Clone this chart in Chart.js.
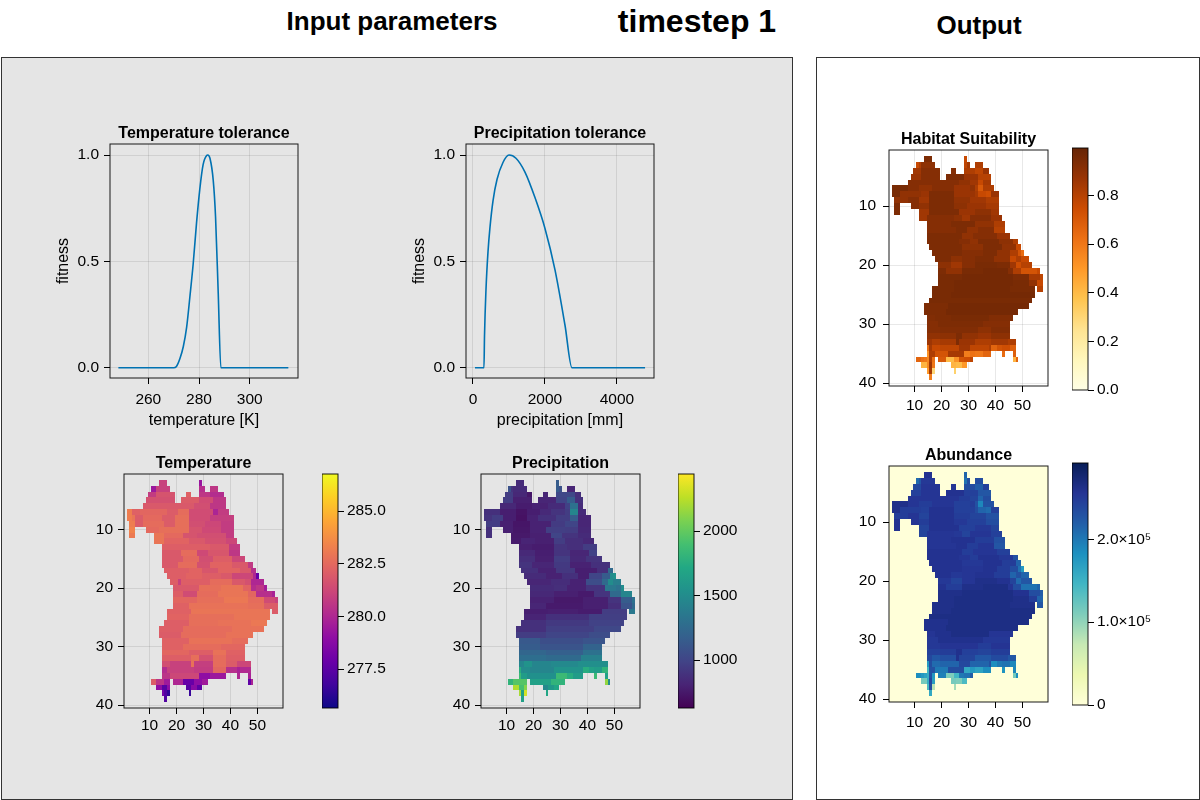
<!DOCTYPE html>
<html><head><meta charset="utf-8">
<script src="https://cdn.jsdelivr.net/npm/chart.js@4"></script>
<style>
html,body{margin:0;padding:0;background:#fff;width:1200px;height:800px;overflow:hidden;font-family:"Liberation Sans",sans-serif}
.box{position:absolute;box-sizing:border-box;border:1px solid #333}
.head{position:absolute;font-weight:bold;color:#000;white-space:nowrap;transform:translate(-50%,-50%)}
canvas{position:absolute;display:block}
</style></head><body>
<div class="box" style="left:1px;top:57px;width:792px;height:743px;background:#e5e5e5"></div>
<div class="box" style="left:816px;top:57px;width:384px;height:743px;background:#fff"></div>
<div class="head" style="left:392px;top:21px;font-size:26px">Input parameters</div>
<div class="head" style="left:697px;top:21px;font-size:32px">timestep 1</div>
<div class="head" style="left:979px;top:25px;font-size:26px">Output</div>
<script>
const tempAxisX=[248.2,260,270,271,272.5,273.8,275.1,276.4,277.7,279,280.3,281.6,283,283.4,284.3,285.6,286.5,287.56,288.6,300,315.2];
const tempFitness=[0,0,0,0.005,0.045,0.10,0.19,0.335,0.49,0.68,0.84,0.955,0.998,1,0.985,0.88,0.71,0.35,0,0,0];
const precipAxisX=[55,300,305,320,361,417,472,556,667,833,1000,1194,1444,1722,2000,2278,2556,2750,4780];
const precipFitness=[0,0,0,0.15,0.367,0.545,0.66,0.785,0.885,0.965,1,0.985,0.92,0.80,0.655,0.46,0.2,0,0];
const maskSpans=[[],[14,16,29,29],[11,17,29,30,33,35],[10,19,24,25,29,37],[9,19,22,38],[8,38],[2,39],[2,41],[3,41],[3,4,9,41],[3,4,12,41],[12,42],[15,43],[15,43],[15,45],[15,48],[16,49],[17,50],[18,52],[19,53],[19,56],[19,57],[19,57],[17,54,56,57],[17,54],[16,53],[14,52],[14,48],[15,46],[15,45],[15,45],[15,45],[15,47],[15,47],[15,38,43,43,47,47],[11,17,19,31,47,48],[13,17,24,29],[15,17,25,25],[16,16],[]];
const temperatureRuns=[[],
[14,281,29,279.3],
[11,279.4,13,281,29,280.3,33,280.6],
[10,280.8,13,281.7,24,282.2,29,280.6,33,280.2],
[9,281.6,22,282,29,281.4,34,280.6],
[8,281.9,27,281.5,33,280.6],
[2,283.2,4,282.2,7,282.4,17,282,21,282.6,25,281.4,34,279.9,36,280.8],
[2,283.2,4,282.9,5,282,8,282.5,15,282,20,282.7,25,281.4,33,280.9],
[3,283.2,5,282,8,282.6,16,282,20,282.7,25,281.5,31,281.2,37,280.8],
[3,283.4,9,282.5,14,282.7,25,281.7,30,281.3,37,280.8],
[3,283.1,12,282.9,16,282.5,23,281.7,28,281.5,39,280.8],
[12,282.9,16,282.3,25,281.9,31,281.6,39,281.2],
[15,282.1,33,281.9,40,280.8],
[15,281.9,22,282.6,28,281.3,32,281.8,40,280.6],
[15,281.9,23,282.5,29,281.5,34,282.1,41,281.2],
[15,281.9,21,282.6,28,281.6,33,282.3,41,281.9,47,280.7],
[16,282.1,25,282.3,30,281.8,36,282.3,44,281.9,48,280.3],
[17,282.1,24,282.3,30,282.1,37,281.9,41,281.2,49,280,50,277.8],
[18,282.1,21,281,22,282.1,33,282.6,41,281.9,46,281.6,48,280],
[19,281.9,29,282.7,37,282.9,45,282.3,48,280.2,50,280.6,53,279.6],
[19,282.1,23,281.4,28,282.6,36,282.9,47,282.4,50,280.3,56,279.8],
[19,282.4,28,282.7,38,283,47,282.6,53,281.4,57,281],
[19,282.2,25,282.8,47,282.7,53,282],
[17,282.2,26,282.9,56,282],
[17,282.3,25,282.7,42,282.9],
[16,282.1,25,282.7,36,282.8,48,283],
[14,282.1,23,282.6,41,282.8],
[14,282,22,282.6,39,282.8],
[15,282.2,25,282.8,41,282.6],
[15,282.2,23,282.6,37,282.4],
[15,282.4,25,282.1,34,282.8,39,282.2],
[15,282.1,26,282.7,29,281.6,34,282.6,39,282.1],
[15,281.5,18,281,26,282.8,27,280.9,34,282.6,39,282,43,281.2],
[15,280.2,17,281,27,280.8,34,282.4,39,280.3,43,279.8,44,280.1],
[15,280.5,18,281.2,29,279,33,279.4,43,280,47,279.8],
[11,282,13,280.5,16,279.5,19,280,23,277.8,27,279,30,279.5,47,277.6,48,279.8],
[13,279,15,277.4,17,279,24,277.4,26,278.8,28,277.5],
[15,278.2,16,277.2,17,276.4,25,276.6],
[16,277.2],[]];
const precipitationRuns=[[],
[14,850,29,1150],
[11,1080,12,900,13,850,29,1150,30,1080,33,820],
[10,950,13,830,18,740,24,820,29,1020,36,870],
[9,950,13,790,22,820,29,1000,33,1150,36,880],
[8,830,14,770,20,800,26,850,32,980,34,1300,37,850],
[2,880,8,780,14,720,18,780,23,840,27,900,32,950,34,1450,37,850],
[2,900,5,950,9,780,14,710,18,800,22,880,29,950,34,1150,37,820],
[3,950,8,790,13,730,19,800,27,940,32,1000,37,820],
[3,880,9,790,13,740,19,800,25,960,32,950,37,830],
[3,880,12,750,19,790,27,1000,31,900,37,850],
[12,760,16,810,21,790,28,950,32,870,39,830],
[15,790,20,770,28,900,33,870,39,950],
[15,840,21,780,28,900,34,820,41,980],
[15,870,21,790,28,950,34,830,40,900],
[15,900,20,820,28,930,34,800,42,880],
[16,880,22,800,29,920,36,780,44,870,48,1250],
[17,850,25,800,31,880,37,780,41,1000,46,1150,49,1500,50,1550],
[18,820,27,860,34,800,40,1050,46,1250,48,1500,50,1400],
[19,850,28,870,33,800,40,900,47,1350,51,1300,53,1500],
[19,830,28,790,37,760,43,900,49,1250,53,1450],
[19,800,28,750,39,790,48,900,53,1150,57,1300],
[19,820,25,760,39,790,48,870,53,1100,57,1250],
[17,780,26,790,37,770,46,950,56,1350],
[17,810,25,880,41,960],
[16,880,25,930,41,980],
[14,880,25,960,43,1020],
[14,950,25,1000,41,1050],
[15,1130,23,1060,39,1100],
[15,1150,23,1100,39,1200],
[15,1220,25,1180,39,1300],
[15,1280,25,1250,38,1420],
[15,1450,17,1550,20,1450,27,1480,37,1520],
[15,1750,16,1500,19,1450,28,1550,39,1750,41,1650,43,1620,46,1800],
[15,1850,16,1620,18,1530,29,1850,33,1750,35,1620,43,1850,47,1650],
[11,1800,13,1950,19,1650,27,1800,47,2150,48,1500],
[13,2220,15,1900,17,2100,24,1480,26,1600,28,1700],
[15,2200,16,1650,17,2320,25,1700],
[16,1650],[]];
const suitabilityRuns=[[],
[14,.94,29,.76],
[11,.76,12,.82,13,.90,29,.78,30,.84,33,.82],
[10,.855,13,.92,24,.92,29,.82,33,.78,36,.87],
[9,.87,13,.92,22,.94,29,.87,34,.80],
[8,.92,27,.89,31,.855,34,.76,36,.84],
[2,.95,8,.92,12,.89,17,.92,25,.87,31,.89,33,.82,34,.70,36,.82],
[2,.95,5,.89,13,.87,16,.94,25,.87,33,.84,34,.76,37,.74,39,.87],
[3,.89,8,.92,12,.855,16,.94,25,.89,31,.855,37,.82],
[3,.94,9,.92,12,.89,16,.94,25,.90,30,.87,37,.84],
[3,.94,12,.855,16,.94,27,.87,33,.90,39,.855],
[12,.855,15,.92,25,.90,28,.855,31,.92,39,.87],
[15,.92,24,.94,33,.89,40,.82],
[15,.92,26,.94,30,.89,34,.92,40,.80],
[15,.94,28,.89,32,.92,41,.87],
[15,.94,27,.92,31,.89,34,.94,42,.90,47,.82],
[16,.94,28,.90,36,.94,43,.89,48,.76],
[17,.94,28,.92,36,.94,41,.89,46,.82,49,.72,50,.64],
[18,.94,24,.90,28,.92,33,.94,40,.89,46,.76,48,.82,50,.76],
[19,.90,24,.855,28,.92,33,.95,41,.94,46,.855,48,.74,50,.80],
[19,.94,22,.89,28,.95,36,.96,45,.92,47,.82,50,.72,56,.76],
[19,.95,28,.96,47,.94,53,.84,57,.78],
[19,.95,25,.96,47,.95,53,.89,56,.76],
[17,.95,25,.96,46,.95,56,.80],
[17,.95,24,.96],
[16,.95],
[14,.94,23,.96],
[14,.94,22,.96],
[15,.93,18,.94,24,.95,38,.93],
[15,.92,19,.94,36,.92],
[15,.92,20,.93,34,.90,39,.93],
[15,.89,20,.90,26,.94,28,.89,34,.87,39,.90],
[15,.86,17,.82,20,.84,26,.94,27,.87,33,.82,39,.85,45,.82],
[15,.62,16,.84,17,.76,20,.78,27,.86,31,.78,38,.82,39,.66,41,.72,43,.74,46,.68],
[15,.52,16,.82,18,.72,23,.84,29,.58,31,.62,33,.60,36,.66,43,.64,47,.68],
[11,.66,13,.62,14,.60,15,.55,16,.82,17,.62,19,.70,22,.40,25,.52,27,.72,29,.74,31,.78,47,.42,48,.66],
[13,.42,15,.55,16,.86,17,.60,24,.42,26,.40,28,.50],
[15,.50,16,.85,17,.30,25,.32],
[16,.58],[]];
const abundanceRuns=[[],
[14,2.58,29,2.15],
[11,2.1,12,2.26,13,2.52,29,2.05,30,2.34,33,2.34],
[10,2.38,13,2.55,24,2.55,29,2.34,33,2.2,36,2.45],
[9,2.45,13,2.55,22,2.58,29,2.45,34,2.26],
[8,2.55,27,2.48,31,2.42,34,2.15,36,2.34],
[2,2.62,8,2.55,12,2.48,17,2.55,25,2.45,31,2.48,33,2.3,34,1.9,36,2.3],
[2,2.62,5,2.48,13,2.45,16,2.58,25,2.45,33,2.34,34,2.15,37,2.1,39,2.45],
[3,2.48,8,2.55,12,2.42,16,2.58,25,2.48,31,2.42,37,2.3],
[3,2.58,9,2.55,12,2.48,16,2.58,25,2.52,30,2.45,37,2.34],
[3,2.58,12,2.42,16,2.58,27,2.45,33,2.52,39,2.42],
[12,2.42,15,2.55,25,2.52,28,2.42,31,2.55,39,2.45],
[15,2.55,24,2.58,33,2.48,40,2.3],
[15,2.55,26,2.58,30,2.48,34,2.55,40,2.26],
[15,2.58,28,2.48,32,2.55,41,2.45],
[15,2.58,27,2.55,31,2.48,34,2.58,42,2.52,47,2.3],
[16,2.58,28,2.52,36,2.58,43,2.48,48,2.15],
[17,2.58,28,2.55,36,2.58,41,2.48,46,2.34,49,2.05,50,1.75],
[18,2.58,24,2.52,28,2.55,33,2.58,40,2.48,46,2.15,48,2.3,50,2.15],
[19,2.52,24,2.42,28,2.55,33,2.62,41,2.58,46,2.42,48,2.1,50,2.26],
[19,2.58,22,2.48,28,2.62,36,2.65,45,2.55,47,2.34,50,2.05,56,2.15],
[19,2.62,28,2.65,47,2.58,53,2.34,57,2.2],
[19,2.62,25,2.65,47,2.62,53,2.48,56,2.15],
[17,2.62,25,2.65,46,2.62,56,2.26],
[17,2.62,24,2.65],
[16,2.65],
[14,2.6,23,2.65],
[14,2.6,22,2.65],
[15,2.55,18,2.6,24,2.65,38,2.55],
[15,2.52,19,2.6,36,2.52],
[15,2.52,20,2.56,34,2.48,39,2.56],
[15,2.45,20,2.48,26,2.6,28,2.45,34,2.42,39,2.48],
[15,2.38,17,2.25,20,2.32,26,2.6,27,2.42,33,2.25,39,2.36,45,2.25],
[15,1.75,16,2.34,17,2.1,20,2.15,27,2.38,31,2.15,38,2.3,39,1.85,41,2.0,43,2.05,46,1.9],
[15,1.45,16,2.3,18,2.0,23,2.35,29,1.6,31,1.75,33,1.65,36,1.85,43,1.8,47,1.9],
[11,1.85,13,1.75,14,1.65,15,1.55,16,2.3,17,1.75,19,1.95,22,1.1,25,1.45,27,2.0,29,2.05,31,2.2,47,1.15,48,1.85],
[13,1.15,15,1.55,16,2.4,17,1.7,24,1.15,26,1.1,28,1.4],
[15,1.4,16,2.35,17,0.8,25,0.9],
[16,1.6],[]];
const colLabels=[];for(let c=1;c<=59;c++)colLabels.push(String(c));
const mapXTicks=[10,20,30,40,50],mapYTicks=[10,20,30,40];
const plasma=['#0d0887','#41049d','#6a00a8','#8f0da4','#b12a90','#cc4778','#e16462','#f1844b','#fca636','#fcce25','#f0f921'];
const viridis=['#440154','#482475','#414487','#355f8d','#2a788e','#21918c','#22a884','#44bf70','#7ad151','#bddf26','#fde725'];
const ylorbr=['#ffffe5','#fff7bc','#fee391','#fec44f','#fe9929','#ec7014','#cc4c02','#993404','#662506'];
const ylgnbu=['#ffffd9','#edf8b1','#c7e9b4','#7fcdbb','#41b6c4','#1d91c0','#225ea8','#253494','#081d58'];
const tempTicks=[277.5,280,282.5,285],precipTicks=[1000,1500,2000],suitTicks=[0,.2,.4,.6,.8],abundTicks=[0,1,2];

Chart.defaults.font.family='"Liberation Sans",sans-serif';
Chart.defaults.font.size=15.5;
Chart.defaults.color='#000';
Chart.defaults.animation=false;
Chart.defaults.responsive=false;
Chart.defaults.devicePixelRatio=1;
Chart.defaults.plugins.legend.display=false;
Chart.defaults.plugins.tooltip.enabled=false;

// cells are snapped to whole pixels so that neighbouring bars leave no seams
Chart.BarElement.prototype.draw=function(ctx){
  const {x,y,base,width}=this.getProps(['x','y','base','width']);
  const l=Math.round(x-width/2),r=Math.round(x+width/2),t=Math.round(Math.min(y,base)),b=Math.round(Math.max(y,base));
  if(!(r>l&&b>t))return;
  ctx.save();ctx.fillStyle=this.options.backgroundColor;ctx.fillRect(l,t,r-l,b-t);ctx.restore();
};

const GRID='rgba(0,0,0,0.09)',FRAME='rgba(0,0,0,0.9)',TITLE_H=20,TICK=6;
const framePlugin={id:'frame',afterDraw(c){const a=c.chartArea,x=c.ctx;x.save();x.strokeStyle=FRAME;x.lineWidth=1;x.strokeRect(a.left,a.top,a.right-a.left,a.bottom-a.top);x.restore();}};
function mkCanvas(l,t,w,h){const c=document.createElement('canvas');c.width=w;c.height=h;c.style.left=l+'px';c.style.top=t+'px';document.body.appendChild(c);return c;}
function hex(h){return [1,3,5].map(i=>parseInt(h.substr(i,2),16));}
function cmap(stops,t){t=Math.max(0,Math.min(1,t));const p=t*(stops.length-1),i=Math.min(Math.floor(p),stops.length-2),f=p-i,a=hex(stops[i]),b=hex(stops[i+1]);return 'rgb('+a.map((v,k)=>Math.round(v+(b[k]-v)*f)).join(',')+')';}
function tickSet(list){return a=>{a.ticks=list.map(v=>({value:v}));};}
function inMask(r,c){const s=maskSpans[r-1];for(let i=0;i<s.length;i+=2)if(c>=s[i]&&c<=s[i+1])return true;return false;}
function runValue(runs,r,c){const s=runs[r-1];let v=null;for(let i=0;i<s.length;i+=2)if(c>=s[i])v=s[i+1];return v;}

function heat(f,title,runs,stops,lo,hi,fillEmpty,xPad,yPad){
  const W=50,B=44,R=2,fw=f.r-f.l,fh=f.b-f.t;
  const cv=mkCanvas(f.l-W,f.t-TITLE_H,W+fw+R,TITLE_H+fh+B);
  const datasets=[];
  for(let r=1;r<=40;r++){
    const data=[],bg=[];
    colLabels.forEach((_,i)=>{const c=i+1;
      if(inMask(r,c)){const v=runValue(runs,r,c);data.push([r-.5,r+.5]);bg.push(cmap(stops,(v-lo)/(hi-lo)));}
      else if(fillEmpty){data.push([r-.5,r+.5]);bg.push(stops[0]);}
      else{data.push(null);bg.push('rgba(0,0,0,0)');}
    });
    datasets.push({data,backgroundColor:bg,grouped:false,barPercentage:1,categoryPercentage:1,borderWidth:0});
  }
  new Chart(cv,{type:'bar',data:{labels:colLabels,datasets},plugins:[framePlugin],options:{
    layout:{padding:{right:R}},
    plugins:{title:{display:true,text:title,fullSize:false,padding:0,font:{size:16,weight:'bold',lineHeight:TITLE_H+'px'}}},
    scales:{
      x:{type:'category',offset:true,grid:{offset:false,color:GRID,tickColor:'#000',tickLength:TICK},border:{display:false},
         ticks:{autoSkip:false,maxRotation:0,padding:xPad},
         afterBuildTicks:a=>{a.ticks=mapXTicks.map(v=>({value:v-1}));},afterFit:a=>{a.height=B;}},
      y:{type:'linear',reverse:true,min:.5,max:40.5,grid:{color:GRID,tickColor:'#000',tickLength:TICK},border:{display:false},
         ticks:{padding:yPad},afterBuildTicks:tickSet(mapYTicks),afterFit:a=>{a.width=W;}}
    }}});
}
function curve(f,title,xs,ys,xlabel,xmin,xmax,xticks){
  const W=56,B=56,R=4,fw=f.r-f.l,fh=f.b-f.t;
  const cv=mkCanvas(f.l-W,f.t-TITLE_H,W+fw+R,TITLE_H+fh+B);
  new Chart(cv,{type:'scatter',data:{datasets:[{data:xs.map((x,i)=>({x,y:ys[i]})),showLine:true,borderColor:'#0072b2',borderWidth:1.6,pointRadius:0,cubicInterpolationMode:'monotone'}]},plugins:[framePlugin],options:{
    layout:{padding:{right:R}},
    plugins:{title:{display:true,text:title,fullSize:false,padding:0,font:{size:16,weight:'bold',lineHeight:TITLE_H+'px'}}},
    scales:{
      x:{type:'linear',min:xmin,max:xmax,grid:{color:GRID,tickColor:'#000',tickLength:TICK},border:{display:false},ticks:{padding:6,maxRotation:0,callback:v=>String(v)},
         title:{display:true,text:xlabel,padding:{top:0,bottom:4},font:{size:16}},afterBuildTicks:tickSet(xticks),afterFit:a=>{a.height=B;}},
      y:{type:'linear',min:-.048,max:1.052,grid:{color:GRID,tickColor:'#000',tickLength:TICK},border:{display:false},ticks:{padding:5,callback:v=>v.toFixed(1)},
         title:{display:true,text:'fitness',padding:0,font:{size:16}},afterBuildTicks:tickSet([0,.5,1]),afterFit:a=>{a.width=W;}}
    }}});
}
function colorbar(f,stops,lo,hi,ticks,fmt){
  const W=100,P=14,fw=f.r-f.l,fh=f.b-f.t;
  const cv=mkCanvas(f.l,f.t-P,fw+W,fh+2*P);
  const paint=ctx=>{const a=ctx.chart.chartArea;if(!a)return stops[0];const g=ctx.chart.ctx.createLinearGradient(0,a.bottom,0,a.top);stops.forEach((s,i)=>g.addColorStop(i/(stops.length-1),s));return g;};
  new Chart(cv,{type:'bar',data:{labels:[''],datasets:[{data:[[lo,hi]],backgroundColor:paint,barPercentage:1,categoryPercentage:1,borderWidth:0}]},plugins:[framePlugin],options:{
    layout:{padding:{top:P,bottom:P}},
    scales:{
      x:{display:false},
      y:{type:'linear',position:'right',min:lo,max:hi,grid:{display:true,drawOnChartArea:false,tickColor:'#000',tickLength:TICK},border:{display:false},
         ticks:{padding:3,callback:fmt},afterBuildTicks:tickSet(ticks),afterFit:a=>{a.width=W;}}
    }}});
}
curve({l:110,r:298,t:144,b:378},'Temperature tolerance',tempAxisX,tempFitness,'temperature [K]',244.9,319,[260,280,300]);
curve({l:466,r:654,t:144,b:378},'Precipitation tolerance',precipAxisX,precipFitness,'precipitation [mm]',-194,5028,[0,2000,4000]);
heat({l:124,r:283,t:474,b:708},'Temperature',temperatureRuns,plasma,275.66,286.76,false,2,5);
heat({l:481,r:640,t:474,b:708},'Precipitation',precipitationRuns,viridis,628,2442,false,2,5);
heat({l:889,r:1048,t:150,b:386},'Habitat Suitability',suitabilityRuns,ylorbr,0,.996,false,4,7);
heat({l:889,r:1048,t:466,b:702},'Abundance',abundanceRuns,ylgnbu,0,2.92,true,5,7);
colorbar({l:322,r:338,t:474,b:708},plasma,275.66,286.76,tempTicks,v=>v.toFixed(1));
colorbar({l:678,r:694,t:474,b:708},viridis,628,2442,precipTicks,v=>String(v));
colorbar({l:1072,r:1088,t:148,b:390},ylorbr,0,.996,suitTicks,v=>v.toFixed(1));
colorbar({l:1072,r:1088,t:463,b:705},ylgnbu,0,2.92,abundTicks,v=>v===0?'0':v.toFixed(1)+'×10⁵');
</script>
</body></html>
